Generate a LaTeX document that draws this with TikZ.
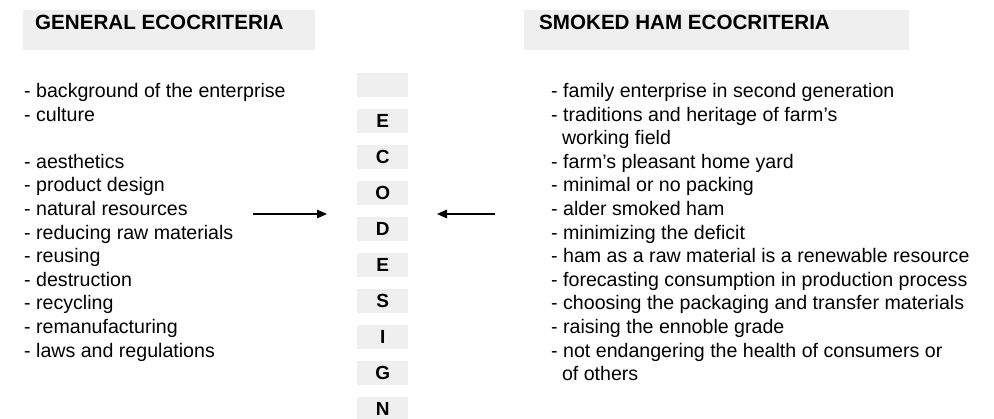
\documentclass[tikz,border=0pt]{standalone}
\usepackage{fontspec}
\setmainfont{Liberation Sans}
\usetikzlibrary{arrows.meta}
\definecolor{panel}{HTML}{EFEFEF}
\tikzset{
  panelbox/.style={fill=panel, draw=none, inner sep=0pt, anchor=north west},
  headtext/.style={anchor=base west, inner sep=0pt, font=\fontsize{20.6}{24}\selectfont\bfseries},
  itemtext/.style={anchor=base west, inner sep=0pt, font=\fontsize{19.6}{23}\selectfont},
  letterbox/.style={fill=panel, draw=none, inner sep=0pt, minimum width=50.7pt, minimum height=23.4pt,
    font=\fontsize{19}{20}\selectfont\bfseries},
  feed/.style={line width=1.4pt, -{Triangle[length=10pt,width=8.5pt]}}
}
\begin{document}
\begin{tikzpicture}[x=1pt,y=-1pt]
\useasboundingbox (0,0) rectangle (994,419);

% column headers
\node[panelbox, minimum width=292pt, minimum height=40pt] (hdrL) at (23,10) {};
\node[headtext] (hdrLt) at (35,30) {GENERAL ECOCRITERIA};
\node[panelbox, minimum width=385pt, minimum height=40pt] (hdrR) at (524,10) {};
\node[headtext] (hdrRt) at (539,30) {SMOKED HAM ECOCRITERIA};

% general criteria list
\foreach \t [count=\i from 0] in {
  - background of the enterprise,
  - culture,
  ,
  - aesthetics,
  - product design,
  - natural resources,
  - reducing raw materials,
  - reusing,
  - destruction,
  - recycling,
  - remanufacturing,
  - laws and regulations}
  \node[itemtext] (g\i) at (24,{97.6+23.6*\i}) {\t};

% smoked ham criteria list
\foreach \t [count=\i from 0] in {
  - family enterprise in second generation,
  - traditions and heritage of farm’s,
  \hspace*{10.8pt}working field,
  - farm’s pleasant home yard,
  - minimal or no packing,
  - alder smoked ham,
  - minimizing the deficit,
  - ham as a raw material is a renewable resource,
  - forecasting consumption in production process,
  - choosing the packaging and transfer materials,
  - raising the ennoble grade,
  - not endangering the health of consumers or,
  \hspace*{10.8pt}of others}
  \node[itemtext] (s\i) at (551,{97.6+23.6*\i}) {\t};

% ECODESIGN column
\foreach \l [count=\i from 0] in {{},E,C,O,D,E,S,I,G,N}
  \node[letterbox] (e\i) at (382.7,{85+36*\i}) {\l};

% arrows towards the column
\coordinate (inL) at (253,214);
\coordinate (toL) at (327,214);
\coordinate (inR) at (495,214);
\coordinate (toR) at (437,214);
\draw[feed] (inL) -- (toL);
\draw[feed] (inR) -- (toR);
\end{tikzpicture}
\end{document}
